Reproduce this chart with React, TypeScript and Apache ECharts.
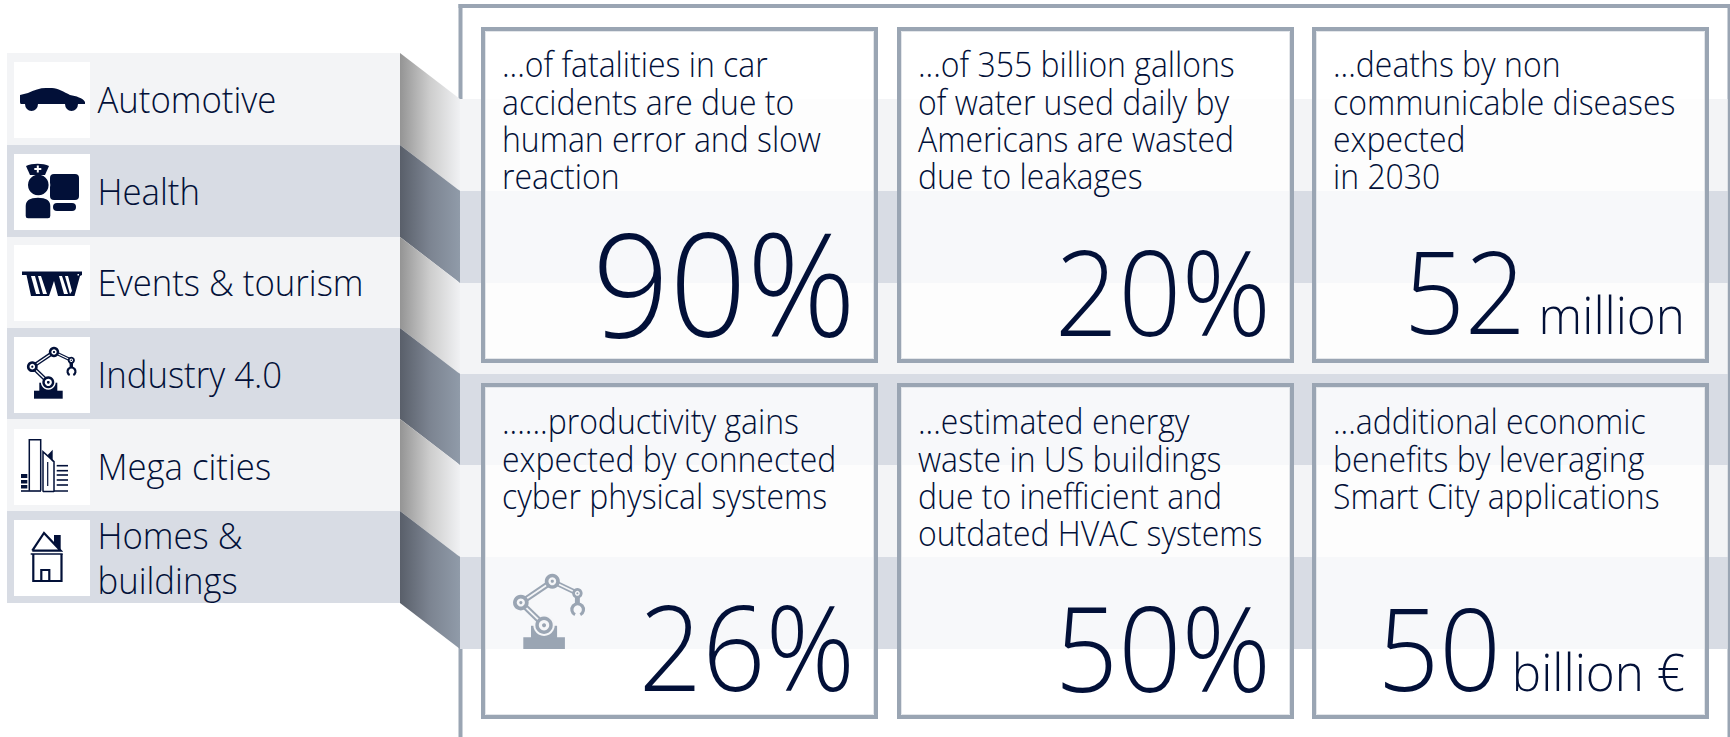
import React, { useEffect, useRef } from "react";
import * as echarts from "echarts";

const categoryLabels = [["Automotive"], ["Health"], ["Events & tourism"], ["Industry 4.0"], ["Mega cities"], ["Homes &", "buildings"]];
const cardDescriptions = [
  ["...of fatalities in car", "accidents are due to", "human error and slow", "reaction"],
  ["...of 355 billion gallons", "of water used daily by", "Americans are wasted", "due to leakages"],
  ["...deaths by non", "communicable diseases", "expected", "in 2030"],
  ["......productivity gains", "expected by connected", "cyber physical systems"],
  ["...estimated energy", "waste in US buildings", "due to inefficient and", "outdated HVAC systems"],
  ["...additional economic", "benefits by leveraging", "Smart City applications"],
];
const cardValues = ["90%", "20%", "52", "26%", "50%", "50"];
const cardUnits = ["", "", "million", "", "", "billion €"];

const W = 1730, H = 737;
const NAVY = "#021038";
const FRAME = "#9aa5b3";
const LIGHT = "#f3f4f6";
const DARK = "#d8dce4";
const FONT = '"Open Sans"';
const BASE = 0.388;

const leftEdges = [53, 145, 237, 328, 419, 511, 603];
const skewDrop = 46;
const iconTops = [62, 154, 245, 337, 429, 520];
const labelBaselines = [[113], [205], [296], [388], [480], [549], [594]];
const cardX = [481, 897, 1312];
const cardY = [27, 383];
const cardW = 397, cardH = 336;

echarts.graphic.registerShape("carBody", echarts.graphic.extendPath(
  "M6 33 L14 31 C20 28 26 26 32 26 L38 26 C44 26 50 30 56 33 C62 34 69 36 71 40 L71 42 L64 42 A6.5 7 0 0 1 51 42 L24 42 A6.5 7 0 0 1 11 42 L7 42 Q6 42 6 40 Z", {}));
echarts.graphic.registerShape("nurseHat", echarts.graphic.extendPath(
  "M12 12 C18 9 29 9 35 12 L31 21 L16 21 Z", {}));
echarts.graphic.registerShape("nurseBody", echarts.graphic.extendPath(
  "M11 52 C11 46 16 43 24 43 C32 43 37 46 37 52 L37 62 Q37 65 34 65 L14 65 Q11 65 11 62 Z", {}));

function text(str: string, x: number, baseline: number, size: number, align: string, scaleX: number) {
  return {
    type: "text", x, y: baseline - BASE * size, scaleX,
    style: { text: str, font: `300 ${size}px ${FONT}`, fill: NAVY, align, verticalAlign: "middle" },
  };
}
const rect = (x: number, y: number, w: number, h: number, fill: string, r?: number) =>
  ({ type: "rect", shape: { x, y, width: w, height: h, r: r || 0 }, style: { fill } });
const circle = (cx: number, cy: number, r: number, fill: string) =>
  ({ type: "circle", shape: { cx, cy, r }, style: { fill } });
const line = (x1: number, y1: number, x2: number, y2: number, stroke: string, lineWidth: number) =>
  ({ type: "line", shape: { x1, y1, x2, y2 }, style: { stroke, lineWidth } });
const poly = (points: number[][], fill: string) =>
  ({ type: "polygon", shape: { points }, style: { fill } });
const pline = (points: number[][], stroke: string, lineWidth: number) =>
  ({ type: "polyline", shape: { points }, style: { stroke, lineWidth, fill: "none" } });

function carIcon() {
  return [{ type: "carBody", style: { fill: NAVY } }];
}
function nurseIcon() {
  return [
    rect(36, 20, 29, 26, NAVY, 4),
    rect(39, 49, 23, 8, NAVY, 4),
    circle(24.3, 31, 12, "#fff"),
    circle(24.3, 31, 10.3, NAVY),
    { type: "nurseBody", style: { fill: NAVY, stroke: "#fff", lineWidth: 1.4 } },
    { type: "nurseHat", style: { fill: NAVY } },
    rect(22.8, 11.5, 2, 7, "#fff"),
    rect(20.3, 14, 7, 2, "#fff"),
  ];
}
function glassesIcon() {
  return [
    poly([[8, 26.5], [68, 26.5], [68, 30], [66, 31], [60.5, 51], [44, 51], [40, 36], [35, 51], [17, 51], [12.5, 30], [8, 30]], NAVY),
    poly([[17, 31], [21, 31], [26, 49], [22, 49]], "#fff"),
    poly([[24, 31], [27, 31], [33, 49], [29, 49]], "#fff"),
    poly([[45, 31], [48, 31], [54, 49], [50, 49]], "#fff"),
    poly([[51, 31], [54, 31], [58, 46], [56, 49]], "#fff"),
    rect(63.5, 29, 1.5, 1.5, "#fff"),
  ];
}
function robotIcon(color: string, detail: string) {
  return [
    rect(20, 53.7, 28.7, 8, color),
    rect(25.3, 45.7, 18, 8.5, color),
    circle(34.3, 45.3, 7.4, detail),
    line(34.3, 45.3, 18.3, 29.7, color, 4),
    line(18.3, 29.7, 40, 15, color, 4),
    line(40, 15, 57.3, 23.3, color, 3.4),
    line(34.3, 45.3, 18.3, 29.7, detail, 1.3),
    line(18.3, 29.7, 40, 15, detail, 1.3),
    line(40, 15, 57.3, 23.3, detail, 1.1),
    rect(55.6, 25, 3.4, 5, color),
    { type: "arc", shape: { cx: 57.5, cy: 34.5, r: 4, startAngle: Math.PI * 0.65, endAngle: Math.PI * 0.35, clockwise: true }, style: { stroke: color, lineWidth: 2.2, fill: "none" } },
    circle(34.3, 45.3, 6, color), circle(34.3, 45.3, 3.6, detail), circle(34.3, 45.3, 1.4, color),
    circle(18.3, 29.7, 5.4, color), circle(18.3, 29.7, 2.8, detail), circle(18.3, 29.7, 1.1, color),
    circle(40, 15, 5.2, color), circle(40, 15, 2.7, detail), circle(40, 15, 1.1, color),
    circle(57.3, 23.3, 3.6, color), circle(57.3, 23.3, 1.7, detail), circle(57.3, 23.3, 0.7, color),
  ];
}
function cityIcon() {
  const kids: any[] = [
    pline([[15.3, 61.7], [15.3, 10.7], [26.7, 10.7], [26.7, 61.7]], NAVY, 1.5),
    line(7, 62, 27, 62, NAVY, 1.6),
    rect(7, 45, 6.3, 4, NAVY), rect(7, 51, 6.3, 3.5, NAVY), rect(7, 56, 6.3, 3.5, NAVY),
    pline([[29, 62.7], [29, 22.7], [40, 32.7], [40, 62.7]], NAVY, 1.5),
    line(29, 62.5, 40, 62.5, NAVY, 1.5),
    line(33.7, 33, 33.7, 57, NAVY, 1.2),
    poly([[33.7, 26], [38.7, 20.7], [38.7, 33]], NAVY),
    line(40, 62, 54, 62, NAVY, 1.5),
  ];
  [36.7, 41.7, 46, 51, 56].forEach((y) => kids.push(line(42.7, y, 54, y, NAVY, 1.6)));
  return kids;
}
function houseIcon() {
  return [
    pline([[18.3, 30.7], [30, 13], [46.7, 30.7], [18.3, 30.7]], NAVY, 2.2),
    poly([[40, 15], [46.7, 15], [46.7, 30], [40, 22.5]], NAVY),
    line(16.7, 34, 48.7, 34, NAVY, 1.6),
    pline([[19.3, 34], [19.3, 61], [47.5, 61], [47.5, 34]], NAVY, 2.2),
    pline([[27.3, 61], [27.3, 50], [35.3, 50], [35.3, 61]], NAVY, 2.2),
  ];
}
const iconBuilders = [carIcon, nurseIcon, glassesIcon, () => robotIcon(NAVY, "#fff"), cityIcon, houseIcon];

function buildElements() {
  const els: any[] = [];
  els.push(rect(458.5, 4, 1271.5, 4, FRAME));
  els.push(rect(458.5, 4, 4, H - 4, FRAME));
  els.push(rect(1727.5, 4, 2.5, H - 4, FRAME));

  const lightGrad = new echarts.graphic.LinearGradient(0, 0, 1, 0, [
    { offset: 0, color: "#949494" }, { offset: 0.5, color: "#cdcdcd" }, { offset: 1, color: "#f0f1f3" },
  ]);
  const darkGrad = new echarts.graphic.LinearGradient(0, 0, 1, 0, [
    { offset: 0, color: "#595f6a" }, { offset: 0.5, color: "#7c8491" }, { offset: 1, color: "#909ba9" },
  ]);
  let labelLine = 0;
  for (let i = 0; i < 6; i++) {
    const top = leftEdges[i], bot = leftEdges[i + 1];
    const even = i % 2 === 0;
    const fill = even ? LIGHT : DARK;
    els.push(rect(7, top, 393, bot - top, fill));
    els.push(rect(460, top + skewDrop, 1267.5, bot - top, fill));
    els.push(poly([[400, top], [460, top + skewDrop], [460, bot + skewDrop], [400, bot]], even ? lightGrad : darkGrad));
    els.push(rect(14, iconTops[i], 76, 76, "#fff"));
    els.push({ type: "group", x: 14, y: iconTops[i], children: iconBuilders[i]() });
    categoryLabels[i].forEach((t) => {
      els.push(text(t, 97.5, labelBaselines[labelLine++][0], 36, "left", 0.965));
    });
  }

  cardDescriptions.forEach((lines, i) => {
    const row = Math.floor(i / 3);
    const x = cardX[i % 3], y = cardY[row];
    els.push({
      type: "rect", shape: { x: x + 4.5, y: y + 4.5, width: cardW - 9, height: cardH - 9 },
      style: { fill: "rgba(255,255,255,0.8)", stroke: "#e3e6ea", lineWidth: 1 },
    });
    els.push({
      type: "rect", shape: { x: x + 2, y: y + 2, width: cardW - 4, height: cardH - 4 },
      style: { fill: "none", stroke: FRAME, lineWidth: 4 },
    });
    lines.forEach((t, k) => {
      els.push(text(t, x + 21, y + 50.5 + row + k * 37.4, 34, "left", 0.94));
    });
  });

  const bigSizes = [144, 118, 114, 118, 118, 115];
  const bigRight = [856, 1271, 1526, 855, 1271, 1501];
  const bigBase = [337, 336, 334, 691, 692, 691];
  cardValues.forEach((v, i) => {
    els.push(text(v, bigRight[i], bigBase[i], bigSizes[i], "right", 0.94));
    if (cardUnits[i]) els.push(text(cardUnits[i], 1685, bigBase[i], 52, "right", 0.95));
  });

  els.push({ type: "group", x: 494.3, y: 559.5, scaleX: 1.45, scaleY: 1.45, children: robotIcon(FRAME, "#f5f6f8") });
  return els;
}

export default function App() {
  const ref = useRef<HTMLDivElement>(null);
  useEffect(() => {
    const chart = echarts.init(ref.current!, undefined, { renderer: "svg" });
    chart.setOption({ animation: false, graphic: { elements: buildElements() } });
    return () => chart.dispose();
  }, []);
  return <div ref={ref} style={{ width: W, height: H, position: "absolute", left: 0, top: 0, background: "#fff" }} />;
}
